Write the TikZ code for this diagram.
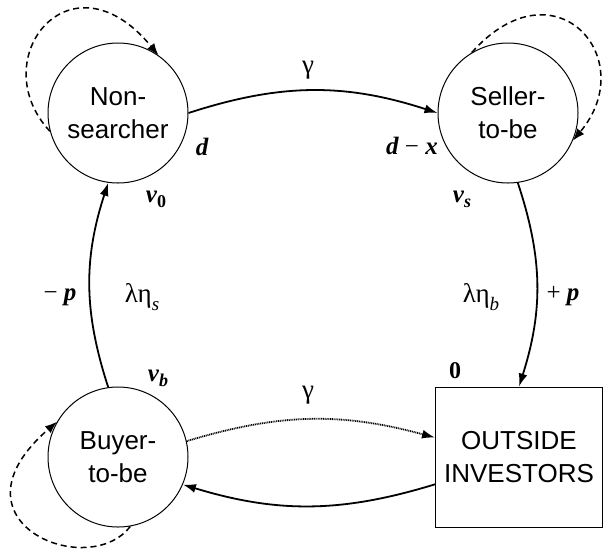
\documentclass[tikz,border=0pt]{standalone}
\usepackage{fontspec}
\setmainfont{Liberation Sans}
\newfontfamily\tms{Liberation Serif}
\usetikzlibrary{arrows.meta}
\begin{document}
\begin{tikzpicture}[x=1pt,y=-1pt,
  state/.style={circle,draw,line width=1pt,minimum size=140pt,inner sep=0pt,align=center,font=\fontsize{26}{33}\selectfont},
  invbox/.style={rectangle,draw,line width=1pt,minimum width=167pt,minimum height=140pt,inner sep=0pt,align=center,font=\fontsize{26}{33}\selectfont},
  flow/.style={line width=1.8pt,-{Latex[length=13pt,width=9pt]}},
  loopflow/.style={line width=1.5pt,dash pattern=on 6pt off 4pt,-{Latex[length=12pt,width=9pt]}},
  dotflow/.style={line width=1.8pt,dash pattern=on 1pt off 0.8pt,-{Latex[length=13pt,width=9pt]}},
  mlab/.style={font=\tms\bfseries\itshape\fontsize{25}{30}\selectfont,inner sep=0pt},
  glab/.style={font=\tms\fontsize{27}{30}\selectfont,inner sep=0pt}
]
\useasboundingbox (0,0) rectangle (604,555);
\node[state] (non) at (118,113) {Non-\\searcher};
\node[state] (sel) at (508,113) {Seller-\\to-be};
\node[state] (buy) at (118,457) {Buyer-\\to-be};
\node[invbox] (inv) at (519,457) {OUTSIDE\\INVESTORS};

\draw[flow] (non.east) to[bend left=18] (sel.west);
\draw[flow] (buy.98) to[bend left=18] (non.262);
\draw[flow] (sel.278) to[bend left=18] (inv.north);
\draw[dotflow] (buy.13) to[bend left=16] (inv.167);
\draw[flow] (inv.198) to[bend left=17] (buy.-23);

\draw[loopflow] (non.195) .. controls +(-67,-72) and +(-88,-107) .. (non.55);
\draw[loopflow] (sel.121) .. controls +(83,-93) and +(69,-82) .. (sel.337);
\draw[loopflow] (buy.280) .. controls +(-42,55) and +(-115,100) .. (buy.150);

\node[glab] (g1) at (308,70) {γ};
\node[glab] (g2) at (308,395) {γ};
\node[mlab] (ld) at (202,147) {d};
\node[mlab] (ldx) at (412,146) {d {\mdseries\upshape −} x};
\node[mlab] (lv0) at (156,199) {v\raisebox{-0.2em}{\upshape\fontsize{18}{18}\selectfont 0}};
\node[mlab] (lvs) at (462,199) {v\raisebox{-0.2em}{\fontsize{18}{18}\selectfont s}};
\node[mlab] (lvb) at (158,378) {v\raisebox{-0.2em}{\fontsize{18}{18}\selectfont b}};
\node[mlab] (lmp) at (60,297) {{\mdseries\upshape −} p};
\node[mlab] (lpp) at (563,296) {{\mdseries\upshape +} p};
\node[glab] (les) at (142,297) {λη\raisebox{-0.3em}{\itshape\fontsize{19}{19}\selectfont s}};
\node[glab] (leb) at (481,297) {λη\raisebox{-0.3em}{\itshape\fontsize{19}{19}\selectfont b}};
\node[mlab,font=\tms\bfseries\fontsize{24}{28}\selectfont] (lz) at (455,371) {0};
\end{tikzpicture}
\end{document}
